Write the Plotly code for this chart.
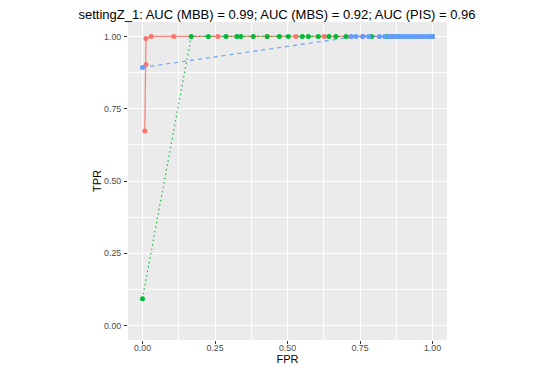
import plotly.graph_objects as go

# ROC curves
mbb_fpr = [0.008, 0.012, 0.012, 0.03, 0.108, 0.26, 0.43, 0.529, 0.627, 0.718, 0.759, 0.86, 0.95, 1.0]
mbb_tpr = [0.673, 0.903, 0.993, 1.0, 1.0, 1.0, 1.0, 1.0, 1.0, 1.0, 1.0, 1.0, 1.0, 1.0]

mbs_fpr = [0.0, 0.168, 0.227, 0.288, 0.325, 0.339, 0.382, 0.43, 0.472, 0.503, 0.551, 0.572,
           0.606, 0.643, 0.667, 0.702, 0.79, 0.843, 0.88, 1.0]
mbs_tpr = [0.093] + [1.0] * 19

pis_fpr = [0.0, 0.72, 0.736, 0.76, 0.78, 0.817, 0.835, 0.85, 0.86, 0.87, 0.88, 0.89, 0.9,
           0.91, 0.92, 0.93, 0.94, 0.95, 0.96, 0.97, 0.98, 0.99, 1.0]
pis_tpr = [0.893] + [1.0] * 22

title = "settingZ_1: AUC (MBB) = 0.99; AUC (MBS) = 0.92; AUC (PIS) = 0.96"

series = [
    ("MBB", mbb_fpr, mbb_tpr, "#F8766D", "solid"),
    ("MBS", mbs_fpr, mbs_tpr, "#00BA38", "1.5px,3px"),
    ("PIS", pis_fpr, pis_tpr, "#619CFF", "4px,4px"),
]

fig = go.Figure()

# lines first, then points (like geom_line + geom_point)
for name, x, y, col, dash in series:
    fig.add_trace(go.Scatter(x=x, y=y, mode="lines", name=name,
                             line=dict(color=col, width=1.3, dash=dash),
                             opacity=0.85, showlegend=False))
for name, x, y, col, dash in series:
    fig.add_trace(go.Scatter(x=x, y=y, mode="markers", name=name,
                             marker=dict(color=col, size=5), showlegend=False))

axis_common = dict(
    range=[-0.05, 1.05],
    tickvals=[0, 0.25, 0.5, 0.75, 1.0],
    ticktext=["0.00", "0.25", "0.50", "0.75", "1.00"],
    showgrid=True, gridcolor="white", gridwidth=1.1,
    minor=dict(tickvals=[0.125, 0.375, 0.625, 0.875], showgrid=True,
               gridcolor="white", gridwidth=0.5, ticks=""),
    zeroline=False, showline=False, automargin=False,
    ticks="outside", ticklen=3, tickwidth=1, tickcolor="#333333",
    tickfont=dict(size=8.8, color="#4D4D4D"),
    title_font=dict(size=11, color="black"),
)

fig.update_xaxes(**axis_common, title_text="FPR", title_standoff=3, ticklabelstandoff=-4)
fig.update_yaxes(**axis_common, title_text="TPR", title_standoff=0, ticklabelstandoff=1)

# the page body adds an 8px offset, so margins are shifted to compensate
fig.update_layout(
    width=540, height=371,
    margin=dict(l=120, r=101, t=13.5, b=38.5),
    plot_bgcolor="#EBEBEB", paper_bgcolor="white",
    font=dict(family="Liberation Sans, Arial, sans-serif"),
    title=dict(text=title, x=269 / 540, xanchor="center", y=1 - 2 / 371, yanchor="top",
               pad=dict(t=0, b=0), font=dict(size=13, color="black"), automargin=False),
)

fig.write_html("out.html")
